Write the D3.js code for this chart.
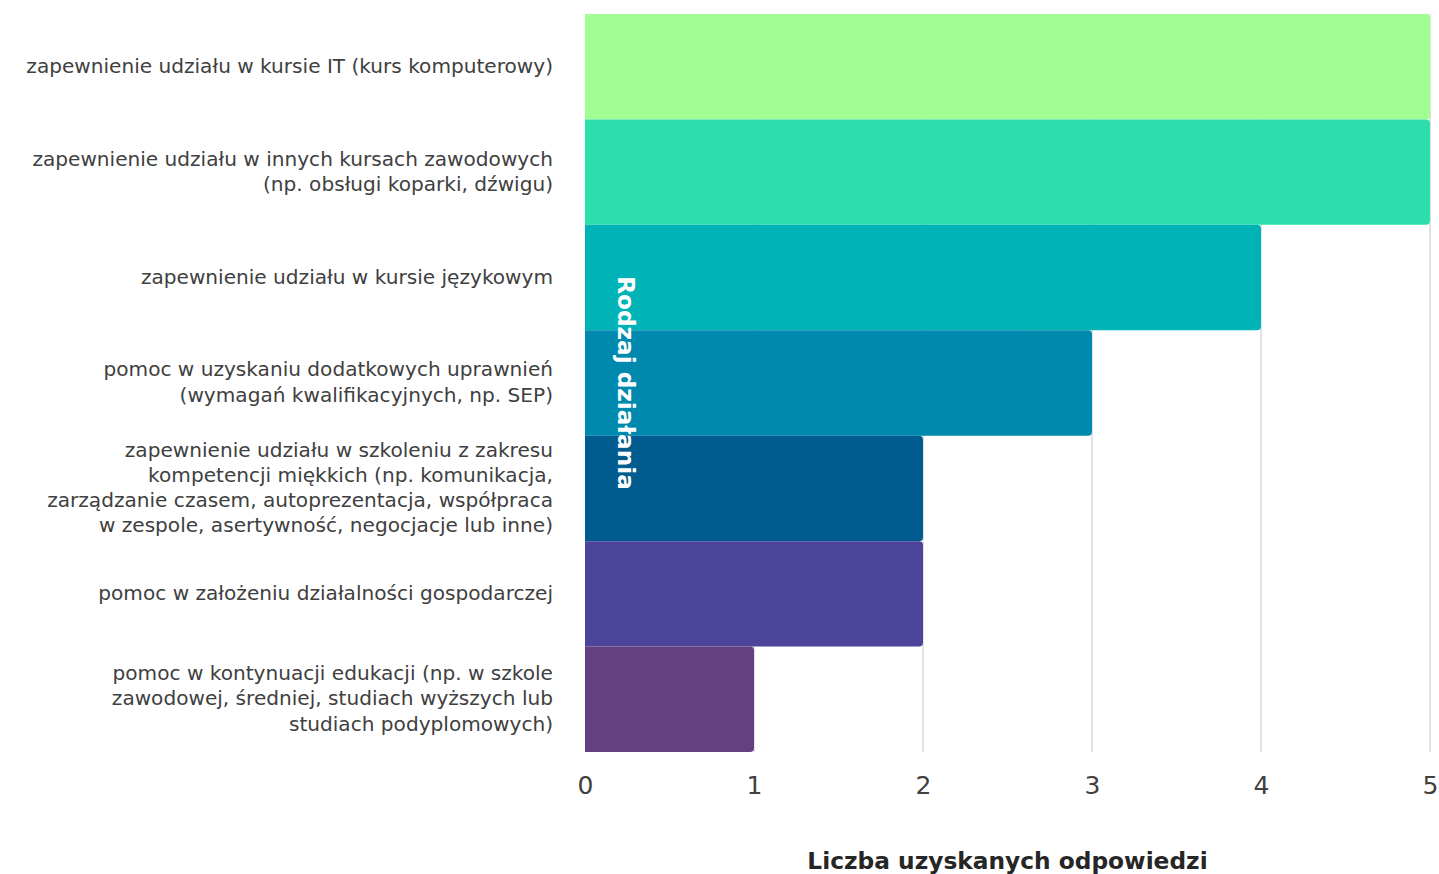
<!DOCTYPE html>
<html>
<head>
<meta charset="utf-8">
<script src="https://cdn.jsdelivr.net/npm/d3@7"></script>
<style>
  body { margin: 0; background: #fff; }
  text { font-family: "DejaVu Sans", sans-serif; }
</style>
</head>
<body>
<script>
// categories, one entry per line of the label
const categories = [
  ["zapewnienie udziału w kursie IT (kurs komputerowy)"],
  ["zapewnienie udziału w innych kursach zawodowych", "(np. obsługi koparki, dźwigu)"],
  ["zapewnienie udziału w kursie językowym"],
  ["pomoc w uzyskaniu dodatkowych uprawnień", "(wymagań kwalifikacyjnych, np. SEP)"],
  ["zapewnienie udziału w szkoleniu z zakresu", "kompetencji miękkich (np. komunikacja,", "zarządzanie czasem, autoprezentacja, współpraca", "w zespole, asertywność, negocjacje lub inne)"],
  ["pomoc w założeniu działalności gospodarczej"],
  ["pomoc w kontynuacji edukacji (np. w szkole", "zawodowej, średniej, studiach wyższych lub", "studiach podyplomowych)"]
];
const values = [5, 5, 4, 3, 2, 2, 1];
const colors = ["#a0fe93", "#2cdeab", "#00b3b7", "#0089ae", "#005b8e", "#4b449a", "#643f82"];
const ticks = [0, 1, 2, 3, 4, 5];

let width = 1439,
  height = 874;

let svg = d3.select("body").append("svg")
  .attr("width", width)
  .attr("height", height);

let x = d3.scaleLinear().domain([0, 5]).range([585, 1430]);
let y = d3.scaleBand().domain(d3.range(categories.length)).range([14, 752]).padding(0);

// gridlines
svg.selectAll(".grid")
  .data(ticks.slice(1))
  .enter().append("line")
  .attr("x1", d => x(d)).attr("x2", d => x(d))
  .attr("y1", 14).attr("y2", 752)
  .attr("stroke", "#d9d9d9")
  .attr("stroke-width", 1.5);

// bars with rounded right end
let r = 4;
svg.selectAll(".bar")
  .data(values)
  .enter().append("path")
  .attr("fill", (d, i) => colors[i])
  .attr("d", (d, i) => {
    let x0 = x(0), x1 = x(d), y0 = y(i), y1 = y(i) + y.bandwidth();
    return `M${x0},${y0}H${x1 - r}Q${x1},${y0} ${x1},${y0 + r}V${y1 - r}Q${x1},${y1} ${x1 - r},${y1}H${x0}Z`;
  });

// x axis tick labels
let xAxis = d3.axisBottom(x).tickValues(ticks).tickFormat(d3.format("d")).tickSize(0).tickPadding(0);
let gx = svg.append("g").attr("transform", "translate(0,785)").call(xAxis);
gx.select(".domain").remove();
gx.selectAll("text")
  .attr("font-family", "DejaVu Sans, sans-serif")
  .attr("font-size", 25)
  .attr("fill", "#404040")
  .attr("dy", "0.35em");

// category labels
let lineH = 25.3;
let lab = svg.selectAll(".lab")
  .data(categories)
  .enter().append("text")
  .attr("text-anchor", "end")
  .attr("font-size", 20.1)
  .attr("fill", "#404040");
lab.each(function(lines, i) {
  let cy = y(i) + y.bandwidth() / 2;
  let top = cy - (lines.length - 1) * lineH / 2;
  d3.select(this).selectAll("tspan")
    .data(lines)
    .enter().append("tspan")
    .attr("x", 553)
    .attr("y", (l, j) => top + j * lineH - 1)
    .attr("dy", "0.35em")
    .text(l => l);
});

// axis titles
svg.append("text")
  .attr("x", (x(0) + x(5)) / 2)
  .attr("y", 861)
  .attr("dy", "0.35em")
  .attr("text-anchor", "middle")
  .attr("font-size", 23.3)
  .attr("font-weight", "bold")
  .attr("fill", "#262626")
  .text("Liczba uzyskanych odpowiedzi");

svg.append("text")
  .attr("transform", `translate(626,${(y.range()[0] + y.range()[1]) / 2}) rotate(90)`)
  .attr("text-anchor", "middle")
  .attr("dy", "0.35em")
  .attr("font-size", 23.2)
  .attr("font-weight", "bold")
  .attr("fill", "#ffffff")
  .text("Rodzaj działania");
</script>
</body>
</html>
